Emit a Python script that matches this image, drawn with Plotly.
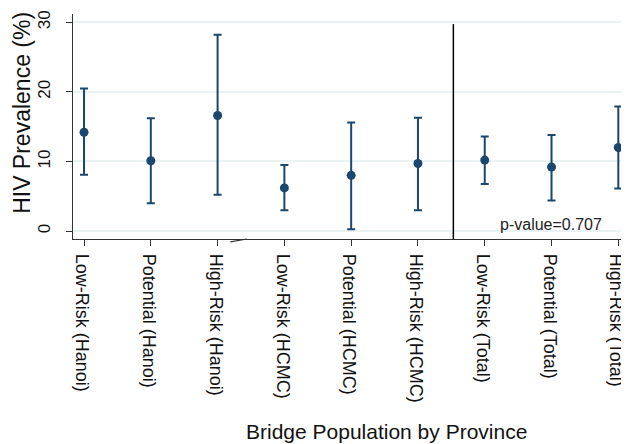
import plotly.graph_objects as go

categories = ["Low-Risk (Hanoi)", "Potential (Hanoi)", "High-Risk (Hanoi)",
              "Low-Risk (HCMC)", "Potential (HCMC)", "High-Risk (HCMC)",
              "Low-Risk (Total)", "Potential (Total)", "High-Risk (Total)"]
prevalence = [14.2, 10.1, 16.6, 6.2, 8.0, 9.7, 10.2, 9.2, 12.0]
ci_lower = [8.1, 4.0, 5.2, 3.0, 0.25, 3.0, 6.75, 4.4, 6.1]
ci_upper = [20.5, 16.2, 28.2, 9.5, 15.6, 16.3, 13.6, 13.8, 17.9]
y_ticks = [0, 10, 20, 30]

xs = list(range(len(categories)))
err_plus = [u - m for u, m in zip(ci_upper, prevalence)]
err_minus = [m - l for m, l in zip(prevalence, ci_lower)]

navy = "#1a476f"
font = "Liberation Sans, Arial, sans-serif"

OFF = 8  # page body margin in the browser
W, H = 629 - OFF, 444 - OFF
L = 73 - OFF
T = 14 - OFF
R = 0
B = H - (239.3 - OFF)
plot_w = W - L - R
plot_h = H - T - B


def px_x(px):
    return (px - OFF - L) / plot_w


def px_y(py):
    return (H - B - (py - OFF)) / plot_h


fig = go.Figure()
fig.add_trace(go.Scatter(
    x=xs, y=prevalence, mode="markers",
    marker=dict(color=navy, size=9),
    error_y=dict(type="data", symmetric=False, array=err_plus, arrayminus=err_minus,
                 color=navy, thickness=2, width=4),
    showlegend=False, cliponaxis=False,
))

fig.add_shape(type="line", xref="x", yref="y", x0=5.53, x1=5.53, y0=-1.15, y1=29.75,
              line=dict(color="black", width=1.5))
fig.add_shape(type="line", xref="x", yref="paper", x0=2.19, x1=2.44, y0=-0.013, y1=0.0,
              line=dict(color="#333333", width=1.2))

fig.add_annotation(x=px_x(551), y=px_y(225), xref="paper", yref="paper", text="p-value=0.707",
                   showarrow=False, xanchor="center", yanchor="middle",
                   font=dict(family=font, size=16, color="#222222"))
fig.add_annotation(x=px_x(22), y=px_y(113), xref="paper", yref="paper", text="HIV Prevalence (%)",
                   showarrow=False, textangle=-90, xanchor="center", yanchor="middle",
                   font=dict(family=font, size=23, color="#111111"))
fig.add_annotation(x=px_x(386), y=px_y(432), xref="paper", yref="paper",
                   text="Bridge Population by Province",
                   showarrow=False, xanchor="center", yanchor="middle",
                   font=dict(family=font, size=21, color="#111111"))

fig.update_layout(
    width=W, height=H,
    margin=dict(l=L, r=R, t=T, b=B, pad=0),
    paper_bgcolor="white", plot_bgcolor="white",
    font=dict(family=font, color="#111111"),
    xaxis=dict(
        range=[-0.165, 8.16], tickmode="array", tickvals=xs, ticktext=categories,
        tickangle=90, ticks="outside", ticklen=6, tickcolor="#333333",
        showline=True, linecolor="#333333", linewidth=1.2, showgrid=False, zeroline=False,
        tickfont=dict(family=font, size=18, color="#111111"),
        ticklabelstandoff=4, ticklabelshift=-2,
        automargin=False, fixedrange=True,
    ),
    yaxis=dict(
        range=[-1.15, 31.2], tickmode="array", tickvals=y_ticks,
        tickangle=-90, ticks="outside", ticklen=6, tickcolor="#333333",
        showline=True, linecolor="#333333", linewidth=1.2,
        showgrid=True, gridcolor="#eaf2f3", gridwidth=1.5, zeroline=False,
        tickfont=dict(family=font, size=17, color="#111111"),
        ticklabelstandoff=9,
        automargin=False, fixedrange=True,
    ),
)

fig.write_html("out.html")
